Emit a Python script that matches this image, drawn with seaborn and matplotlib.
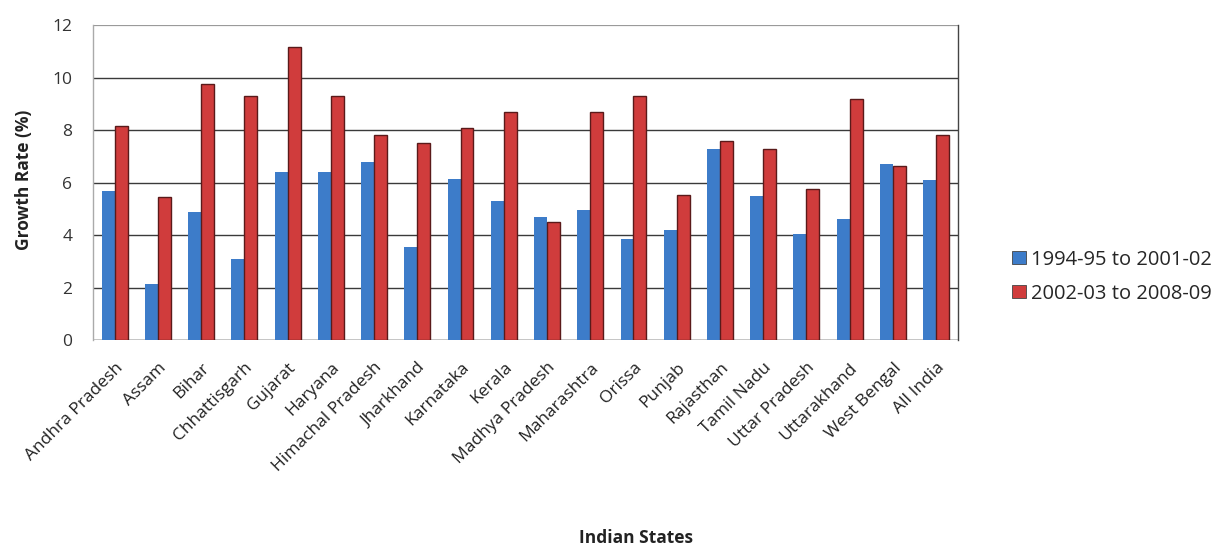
import matplotlib
matplotlib.use("Agg")
import matplotlib.pyplot as plt
import seaborn as sns
import pandas as pd

states = ["Andhra Pradesh", "Assam", "Bihar", "Chhattisgarh", "Gujarat", "Haryana",
          "Himachal Pradesh", "Jharkhand", "Karnataka", "Kerala", "Madhya Pradesh",
          "Maharashtra", "Orissa", "Punjab", "Rajasthan", "Tamil Nadu", "Uttar Pradesh",
          "Uttarakhand", "West Bengal", "All India"]
period_1 = [5.7, 2.15, 4.9, 3.1, 6.4, 6.4, 6.8, 3.55, 6.15, 5.3, 4.7,
            4.95, 3.85, 4.2, 7.3, 5.5, 4.05, 4.6, 6.7, 6.1]
period_2 = [8.15, 5.45, 9.75, 9.3, 11.15, 9.3, 7.8, 7.5, 8.1, 8.7, 4.5,
            8.7, 9.3, 5.55, 7.6, 7.3, 5.75, 9.2, 6.65, 7.8]
series_names = ["1994-95 to 2001-02", "2002-03 to 2008-09"]
y_ticks = [0, 2, 4, 6, 8, 10, 12]

df = pd.DataFrame({
    "state": states * 2,
    "rate": period_1 + period_2,
    "period": [series_names[0]] * len(states) + [series_names[1]] * len(states),
})

sns.set_theme(style="white")
plt.rcParams["font.family"] = ["Open Sans", "DejaVu Sans"]

fig = plt.figure(figsize=(12.17, 5.47), dpi=100)
ax = fig.add_axes([0.0764, 0.378, 0.7106, 0.576])

palette = {series_names[0]: "#3d7cc9", series_names[1]: "#d03c3c"}
sns.barplot(data=df, x="state", y="rate", hue="period", palette=palette,
            width=0.6, gap=0, saturation=1, ax=ax, legend=True)

# dark outline on the red bars only
n = len(states)
for i, patch in enumerate(ax.patches[:2 * n]):
    if i >= n:
        patch.set_edgecolor("#5a1a1a")
        patch.set_linewidth(1.0)
    else:
        patch.set_edgecolor("none")

ax.set_ylim(0, 12)
ax.set_yticks(y_ticks)
ax.set_yticklabels([str(t) for t in y_ticks], fontsize=12.5, color="#333333")
ax.set_xlim(-0.5, n - 0.5)
ax.tick_params(axis="y", length=0, pad=15)
ax.tick_params(axis="x", length=0, pad=14)
plt.setp(ax.get_xticklabels(), rotation=45, ha="right", rotation_mode="anchor",
         fontsize=12.5, color="#222222")

for t in y_ticks[1:-1]:
    ax.axhline(t, color="#3a3a3a", linewidth=1.0, zorder=0.5)
ax.axhline(12, color="#9a9a9a", linewidth=1.6, zorder=0.5)

for side in ["top", "bottom"]:
    ax.spines[side].set_visible(False)
ax.spines["left"].set_color("#aaaaaa")
ax.spines["left"].set_linewidth(1.0)
ax.spines["right"].set_color("#444444")
ax.spines["right"].set_linewidth(1.0)
ax.axhline(0, color="#bbbbbb", linewidth=1.2, zorder=0.5)

ax.set_ylabel("Growth Rate (%)", fontsize=12.5, fontweight="bold", color="#222222")
ax.yaxis.set_label_coords(-0.069, 0.51)
ax.set_xlabel("Indian States", fontsize=12.5, fontweight="bold", color="#222222")
ax.xaxis.set_label_coords(0.628, -0.598)

leg = ax.legend(loc="center left", bbox_to_anchor=(0.817, 0.494), bbox_transform=fig.transFigure,
                frameon=False, fontsize=14.5, handlelength=0.65, handleheight=0.65,
                handletextpad=0.25, labelspacing=0.7)
for h in leg.legend_handles:
    h.set_edgecolor("#444444")
    h.set_linewidth(0.6)

fig.savefig("out.png", dpi=100, facecolor="white")
